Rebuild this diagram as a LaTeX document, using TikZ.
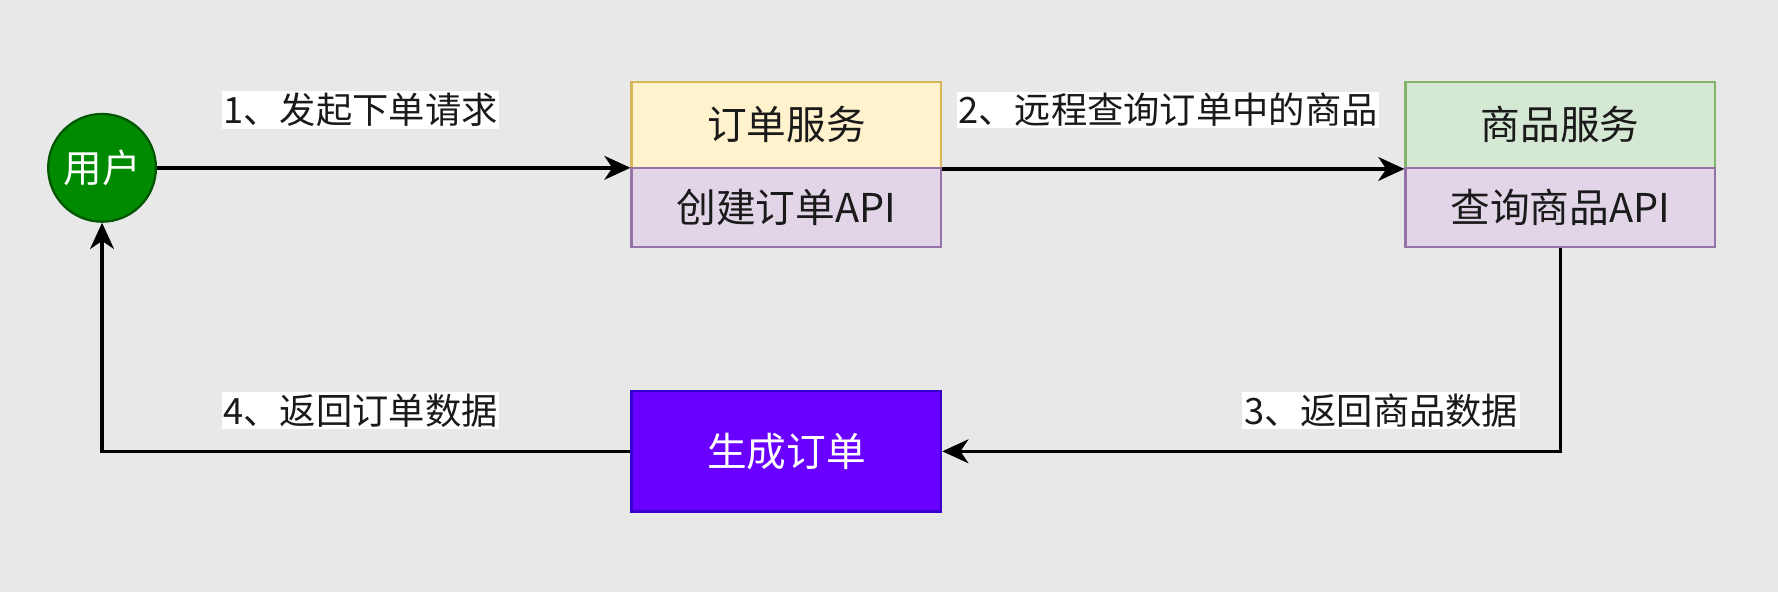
\documentclass[tikz,border=0pt]{standalone}
\usepackage{fontspec}
\setmainfont{Noto Sans CJK SC}
\usetikzlibrary{arrows.meta,positioning}
\definecolor{bgc}{HTML}{E8E8E8}
\definecolor{yelF}{HTML}{FFF2CC}
\definecolor{yelD}{HTML}{D6B656}
\definecolor{grnF}{HTML}{D5E8D4}
\definecolor{grnD}{HTML}{82B366}
\definecolor{purF}{HTML}{E1D5E7}
\definecolor{purD}{HTML}{9673A6}
\definecolor{usrF}{HTML}{008A00}
\definecolor{usrD}{HTML}{005700}
\definecolor{vioF}{HTML}{6A00FF}
\definecolor{vioD}{HTML}{3700CC}
\definecolor{txt}{HTML}{1A1A1A}
\tikzset{
  boxstyle/.style={rectangle, line width=2pt, minimum width=273pt, inner sep=0pt,
    font=\fontsize{35}{42}\selectfont, text=txt},
  lbl/.style={fill=white, inner sep=1.5pt, font=\fontsize{32}{38}\selectfont, text=txt},
  conn/.style={line width=3pt, draw=black, -{Stealth[length=23pt, width=21pt, inset=7pt]}},
}
\begin{document}
\begin{tikzpicture}[x=1pt,y=-1pt]
\fill[bgc] (0,0) rectangle (1568,522);
\useasboundingbox (0,0) rectangle (1568,522);

\node[circle, fill=usrF, draw=usrD, line width=2pt, minimum size=95pt, inner sep=0pt,
  text=white, font=\fontsize{34}{40}\selectfont] (user) at (90,148) {用户};

\node[boxstyle, fill=yelF, draw=yelD, minimum height=76pt] (osTop) at (693.5,110) {订单服务};
\node[boxstyle, fill=purF, draw=purD, minimum height=70pt] (osApi) at (693.5,183) {创建订单API};

\node[boxstyle, fill=grnF, draw=grnD, minimum height=76pt] (psTop) at (1376,110) {商品服务};
\node[boxstyle, fill=purF, draw=purD, minimum height=70pt] (psApi) at (1376,183) {查询商品API};

\node[boxstyle, fill=vioF, draw=vioD, minimum height=106pt, text=white] (gen) at (693.5,398) {生成订单};

\draw[conn] (user.east) -- (user.east -| osTop.west);
\draw[conn] (osTop.south east) -- (psTop.south west);
\draw[conn] (psApi.south) |- (gen.east);
\draw[conn] (gen.west) -| (user.south);

\node[lbl] (l1) at (318,97) {1、发起下单请求};
\node[lbl] (l2) at (1030,97) {2、远程查询订单中的商品};
\node[lbl] (l3) at (1218,362) {3、返回商品数据};
\node[lbl] (l4) at (318,362) {4、返回订单数据};
\end{tikzpicture}
\end{document}
